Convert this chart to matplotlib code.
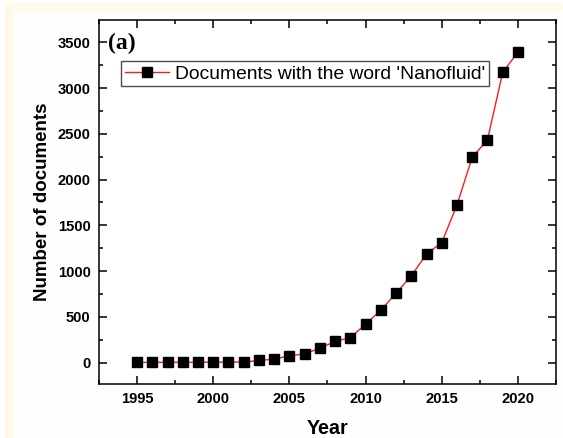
import matplotlib
matplotlib.use("Agg")
import matplotlib.pyplot as plt
from matplotlib.patches import Rectangle
from matplotlib.ticker import MultipleLocator

years = list(range(1995, 2021))
documents = [2, 2, 3, 3, 3, 4, 4, 5, 22, 37, 73, 95, 157, 230, 273, 419,
             572, 758, 947, 1187, 1311, 1723, 2244, 2433, 3172, 3394]
series_label = "Documents with the word 'Nanofluid'"
x_label = "Year"
y_label = "Number of documents"
panel_label = "(a)"
x_ticks = [1995, 2000, 2005, 2010, 2015, 2020]
y_ticks = [0, 500, 1000, 1500, 2000, 2500, 3000, 3500]

plt.rcParams['font.family'] = ['Liberation Sans', 'DejaVu Sans']

W, H = 563, 438
fig = plt.figure(figsize=(W / 100, H / 100), dpi=100)
fig.patch.set_facecolor('white')
# cream page border at top and left
fig.patches.append(Rectangle((5 / W, 0), 1, 1 - 3 / H, transform=fig.transFigure,
                             facecolor='#FFF9E6', edgecolor='none', zorder=-2))
fig.patches.append(Rectangle((13 / W, 0), 1, 1 - 10 / H, transform=fig.transFigure,
                             facecolor='#FEFEFC', edgecolor='none', zorder=-1))

left, right, top, bottom = 99, 556, 20, 384
ax = fig.add_axes([left / W, 1 - bottom / H, (right - left) / W, (bottom - top) / H])

ax.plot(years, documents, color='#FF1A1A', linewidth=1.0, marker='s',
        markersize=6.6, markerfacecolor='black', markeredgecolor='black',
        label=series_label)

ax.set_xlim(1992.5, 2022.5)
ax.set_ylim(-235, 3745)
ax.set_xticks(x_ticks)
ax.set_yticks(y_ticks)
ax.xaxis.set_minor_locator(MultipleLocator(2.5))
ax.yaxis.set_minor_locator(MultipleLocator(250))

ax.tick_params(which='both', direction='in', top=True, right=True, width=1.1)
ax.tick_params(which='major', length=5.5, pad=6)
ax.tick_params(which='minor', length=3)
ax.tick_params(axis='y', which='major', pad=6)
ax.set_xticklabels([str(t) for t in x_ticks], fontsize=10.6, fontweight='bold')
ax.set_yticklabels([str(t) for t in y_ticks], fontsize=10.6, fontweight='bold')
for s in ax.spines.values():
    s.set_linewidth(1.1)

ax.set_xlabel(x_label, fontsize=14.2, fontweight='bold', labelpad=9)
ax.set_ylabel(y_label, fontsize=13.5, fontweight='bold', labelpad=5)

ax.text(0.02, 0.935, panel_label, transform=ax.transAxes, fontsize=17,
        fontweight='bold', family=['Liberation Serif', 'DejaVu Serif'],
        va='center', ha='left')

leg = ax.legend(loc='upper left', bbox_to_anchor=(0.0475, 0.887), borderaxespad=0,
                fontsize=13.9, frameon=True, fancybox=False, borderpad=0.2,
                handlelength=2.3, handletextpad=0.3)
leg.get_frame().set_edgecolor('#222222')
leg.get_frame().set_linewidth(1.0)

fig.savefig('out.png', dpi=100, facecolor=fig.get_facecolor())
